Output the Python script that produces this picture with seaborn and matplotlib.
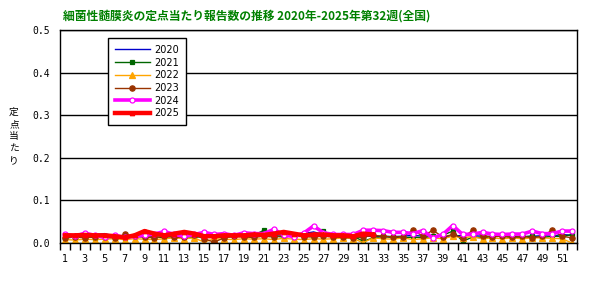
import matplotlib
matplotlib.use("Agg")
import matplotlib.pyplot as plt
import seaborn as sns
import pandas as pd
import numpy as np

weeks = list(range(1, 53))
xtick_labels = [str(w) for w in range(1, 53, 2)]

v2020 = [0.016,0.018,0.015,0.02,0.022,0.016,0.015,0.018,0.016,0.02,0.018,0.017,0.022,0.02,0.018,0.016,0.015,0.017,0.02,0.018,0.016,0.018,0.02,0.018,0.022,0.026,0.02,0.016,0.018,0.015,0.017,0.015,0.016,0.015,0.016,0.018,0.016,0.017,0.015,0.016,0.018,0.017,0.016,0.015,0.02,0.016,0.015,0.016,0.017,0.016,0.02,0.018]
v2021 = [0.012,0.014,0.016,0.012,0.015,0.014,0.012,0.016,0.014,0.015,0.012,0.018,0.015,0.013,0.016,0.012,0.014,0.015,0.016,0.018,0.03,0.016,0.014,0.017,0.016,0.015,0.028,0.016,0.014,0.016,0.004,0.012,0.015,0.013,0.012,0.014,0.012,0.016,0.018,0.028,0.004,0.014,0.012,0.015,0.016,0.013,0.014,0.016,0.012,0.016,0.015,0.02]
v2022 = [0.008,0.007,0.009,0.008,0.009,0.01,0.008,0.01,0.009,0.008,0.01,0.012,0.01,0.012,0.002,0.01,0.009,0.008,0.01,0.009,0.01,0.008,0.011,0.009,0.008,0.01,0.009,0.01,0.012,0.01,0.001,0.012,0.01,0.009,0.012,0.008,0.01,0.012,0.01,0.016,0.012,0.015,0.01,0.012,0.01,0.012,0.01,0.012,0.012,0.011,0.01,0.0]
v2023 = [0.012,0.014,0.012,0.015,0.013,0.012,0.02,0.016,0.014,0.012,0.016,0.013,0.014,0.018,0.01,0.002,0.012,0.016,0.014,0.013,0.016,0.014,0.018,0.016,0.015,0.014,0.016,0.014,0.013,0.012,0.014,0.018,0.016,0.014,0.015,0.03,0.016,0.03,0.014,0.02,0.012,0.03,0.016,0.015,0.016,0.013,0.016,0.012,0.016,0.03,0.016,0.012]
v2024 = [0.021,0.016,0.023,0.018,0.013,0.018,0.013,0.016,0.018,0.021,0.027,0.02,0.016,0.02,0.025,0.02,0.022,0.018,0.024,0.022,0.022,0.032,0.019,0.015,0.023,0.04,0.024,0.02,0.02,0.02,0.03,0.03,0.029,0.025,0.025,0.022,0.029,0.012,0.02,0.041,0.02,0.021,0.025,0.021,0.02,0.021,0.021,0.028,0.022,0.022,0.028,0.028]
v2025 = [0.018,0.018,0.019,0.018,0.018,0.016,0.013,0.018,0.028,0.022,0.018,0.022,0.026,0.022,0.016,0.016,0.018,0.018,0.018,0.02,0.019,0.022,0.026,0.022,0.018,0.02,0.02,0.018,0.018,0.016,0.022,0.02]

series = [
    ("2020", v2020, "#0000CC", None, 1.0, 0, None),
    ("2021", v2021, "#006600", "s", 1.0, 3.2, "#006600"),
    ("2022", v2022, "#FFA500", "^", 1.0, 3.8, "#FFA500"),
    ("2023", v2023, "#993300", "o", 1.0, 3.8, "#993300"),
    ("2024", v2024, "#FF00FF", "o", 2.6, 3.6, "white"),
    ("2025", v2025, "#FF0000", "^", 3.2, 3.2, "#FF0000"),
]

fig = plt.figure(figsize=(6.02, 2.82), dpi=100)
ax = fig.add_axes([60/602, 1-243/282, 517/602, 213/282])
ax.set_facecolor("white")

for name, vals, col, mk, lw, ms, mfc in series:
    df = pd.DataFrame({"week": weeks[:len(vals)], "value": vals})
    kw = dict(x="week", y="value", data=df, ax=ax, color=col, linewidth=lw, label=name)
    if mk:
        kw.update(marker=mk, markersize=ms, markerfacecolor=mfc, markeredgecolor=col, markeredgewidth=0.9)
    sns.lineplot(**kw)

ax.set_xlim(0.5, 52.5)
ax.set_ylim(0, 0.5)
ax.set_yticks([0, 0.1, 0.2, 0.3, 0.4, 0.5])
ax.set_yticklabels(["0.0", "0.1", "0.2", "0.3", "0.4", "0.5"], fontsize=7, family="DejaVu Sans Mono")
ax.yaxis.grid(True, color="black", linewidth=1)
ax.set_axisbelow(True)
ax.tick_params(axis="y", length=0, pad=7)

ax.set_xticks(list(range(1, 53, 2)))
ax.set_xticklabels(xtick_labels, fontsize=7)
ax.set_xticks(np.arange(0.5, 53, 1), minor=True)
ax.tick_params(axis="x", which="major", length=0, pad=8)
ax.tick_params(axis="x", which="minor", length=5, width=1, color="black")
ax.set_xlabel("")
ax.set_ylabel("")
for s in ax.spines.values():
    s.set_color("black")
    s.set_linewidth(1)

leg = ax.legend(loc="upper left", bbox_to_anchor=(48/517, 1-8/213), fontsize=7,
                frameon=True, fancybox=False, edgecolor="black", framealpha=1,
                handlelength=3.6, borderpad=0.7, labelspacing=0.28, handletextpad=0.5,
                borderaxespad=0)
leg.get_frame().set_linewidth(1)

fig.text(63/602, 1-16/282, "細菌性髄膜炎の定点当たり報告数の推移 2020年-2025年第32週(全国)",
         family=["Noto Sans CJK JP", "DejaVu Sans"], fontsize=8.5, fontweight="bold",
         color="#008000", va="center", ha="left")
for i, ch in enumerate("定点当たり"):
    fig.text(14/602, 1-(112 + i*12)/282, ch, family=["Noto Sans CJK JP", "DejaVu Sans"],
             fontsize=7, ha="center", va="center")

fig.savefig("out.png", dpi=100, facecolor="white")
